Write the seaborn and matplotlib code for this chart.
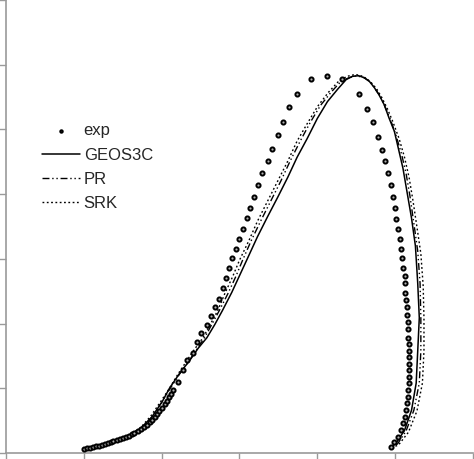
import numpy as np
import pandas as pd
import matplotlib
matplotlib.use("Agg")
import matplotlib.pyplot as plt
import seaborn as sns

# experimental points (left branch up to the top, then down the right branch)
exp_x = [1.00, 1.04, 1.08, 1.12, 1.15, 1.19, 1.23, 1.27, 1.31, 1.35, 1.38, 1.42, 1.46, 1.50,
         1.54, 1.58, 1.62, 1.65, 1.69, 1.73, 1.77, 1.81, 1.85, 1.88, 1.91, 1.94, 1.97, 2.00,
         2.04, 2.07, 2.09, 2.12, 2.14,
         2.21, 2.27, 2.33, 2.40, 2.46, 2.51, 2.58, 2.64, 2.69, 2.74, 2.79,
         2.83, 2.87, 2.90, 2.95, 3.00, 3.04, 3.09, 3.14, 3.19, 3.24, 3.29, 3.36, 3.42, 3.49,
         3.56, 3.64, 3.74, 3.92, 4.13, 4.32,
         4.53, 4.64, 4.72, 4.78, 4.83, 4.87, 4.91, 4.95, 4.97, 5.00, 5.01, 5.04, 5.06, 5.08,
         5.09, 5.10, 5.12, 5.13, 5.13, 5.14, 5.15, 5.15, 5.17, 5.17, 5.17, 5.18, 5.18, 5.18,
         5.18, 5.18, 5.18, 5.18, 5.17, 5.17, 5.15, 5.14, 5.13, 5.10, 5.08, 5.03, 4.99, 4.95]
exp_y = [0.06, 0.07, 0.08, 0.09, 0.11, 0.115, 0.12, 0.135, 0.15, 0.165, 0.18, 0.20, 0.22, 0.235,
         0.25, 0.27, 0.29, 0.315, 0.34, 0.37, 0.40, 0.44, 0.48, 0.515, 0.55, 0.60, 0.65, 0.70,
         0.75, 0.80, 0.86, 0.91, 0.97,
         1.09, 1.29, 1.43, 1.55, 1.71, 1.85, 1.98, 2.12, 2.26, 2.38, 2.55,
         2.71, 2.86, 3.02, 3.15, 3.31, 3.46, 3.63, 3.78, 3.95, 4.14, 4.32, 4.51, 4.69, 4.91,
         5.11, 5.34, 5.55, 5.78, 5.83, 5.78,
         5.55, 5.32, 5.11, 4.89, 4.68, 4.51, 4.32, 4.14, 3.95, 3.78, 3.62, 3.46, 3.31, 3.15,
         3.02, 2.86, 2.74, 2.62, 2.48, 2.37, 2.25, 2.14, 2.02, 1.91, 1.78, 1.69, 1.58, 1.48,
         1.38, 1.28, 1.17, 1.08, 0.97, 0.86, 0.77, 0.66, 0.55, 0.46, 0.35, 0.25, 0.17, 0.09]

geos_x = [0.99, 1.21, 1.40, 1.55, 1.72, 1.87, 2.01, 2.10, 2.23, 2.36, 2.47, 2.58, 2.68, 2.78,
          2.90, 3.00, 3.10, 3.23, 3.36, 3.49, 3.62, 3.74, 3.87, 4.00, 4.13, 4.26, 4.37, 4.45,
          4.53, 4.60, 4.67, 4.73, 4.79, 4.86, 4.92, 4.99, 5.05, 5.10, 5.15, 5.21, 5.26, 5.29,
          5.31, 5.29, 5.27, 5.21, 5.12, 5.01, 4.94]
geos_y = [0.06, 0.11, 0.17, 0.25, 0.37, 0.55, 0.80, 1.00, 1.23, 1.43, 1.62, 1.78, 1.98, 2.20,
          2.48, 2.74, 3.00, 3.34, 3.65, 3.95, 4.26, 4.57, 4.86, 5.17, 5.43, 5.62, 5.77, 5.82,
          5.83, 5.80, 5.74, 5.65, 5.54, 5.38, 5.18, 4.97, 4.66, 4.40, 4.05, 3.63, 3.20, 2.62,
          2.09, 1.58, 1.08, 0.66, 0.35, 0.15, 0.08]

pr_x = [0.99, 1.21, 1.40, 1.55, 1.72, 1.87, 2.01, 2.10, 2.23, 2.35, 2.45, 2.55, 2.65, 2.74,
        2.85, 2.95, 3.04, 3.15, 3.27, 3.40, 3.53, 3.65, 3.78, 3.91, 4.04, 4.18, 4.31, 4.41,
        4.50, 4.60, 4.68, 4.74, 4.81, 4.87, 4.94, 5.01, 5.08, 5.14, 5.19, 5.24, 5.29, 5.32,
        5.33, 5.33, 5.31, 5.24, 5.14, 5.03, 4.94]
pr_y = [0.06, 0.11, 0.17, 0.25, 0.37, 0.55, 0.80, 0.98, 1.22, 1.42, 1.60, 1.78, 2.00, 2.20,
        2.46, 2.72, 2.98, 3.28, 3.58, 3.89, 4.20, 4.51, 4.82, 5.11, 5.37, 5.58, 5.75, 5.80,
        5.83, 5.80, 5.74, 5.63, 5.51, 5.35, 5.15, 4.91, 4.63, 4.32, 3.97, 3.55, 3.12, 2.62,
        2.09, 1.58, 1.08, 0.66, 0.34, 0.14, 0.08]

srk_x = [0.99, 1.21, 1.40, 1.55, 1.72, 1.86, 1.99, 2.09, 2.21, 2.32, 2.42, 2.53, 2.63, 2.72,
         2.81, 2.91, 3.00, 3.12, 3.23, 3.36, 3.49, 3.62, 3.74, 3.87, 4.00, 4.14, 4.27, 4.38,
         4.49, 4.59, 4.68, 4.76, 4.83, 4.90, 4.97, 5.05, 5.12, 5.18, 5.23, 5.28, 5.33, 5.36,
         5.37, 5.37, 5.35, 5.28, 5.17, 5.04, 4.94]
srk_y = [0.06, 0.11, 0.17, 0.26, 0.38, 0.57, 0.80, 0.98, 1.22, 1.42, 1.60, 1.78, 2.00, 2.20,
         2.46, 2.72, 2.98, 3.28, 3.58, 3.89, 4.20, 4.51, 4.82, 5.09, 5.35, 5.57, 5.74, 5.82,
         5.85, 5.82, 5.74, 5.63, 5.49, 5.32, 5.12, 4.86, 4.57, 4.25, 3.89, 3.49, 3.08, 2.58,
         2.08, 1.58, 1.08, 0.65, 0.32, 0.12, 0.08]

sns.set_style("white")
plt.rcParams["font.family"] = ["Liberation Sans", "DejaVu Sans"]

fig = plt.figure(figsize=(4.74, 4.59), dpi=100)
ax = fig.add_axes([6 / 474, 6 / 459, 467 / 474, 453 / 459])

sns.lineplot(x=geos_x, y=geos_y, sort=False, estimator=None, color="black",
             lw=1.1, ls="-", label="GEOS3C", ax=ax)
sns.lineplot(x=pr_x, y=pr_y, sort=False, estimator=None, color="black",
             lw=1.0, ls=(0, (5, 2, 1, 2, 1, 2)), label="PR", ax=ax)
sns.lineplot(x=srk_x, y=srk_y, sort=False, estimator=None, color="black",
             lw=1.0, ls=(0, (1.3, 1.8)), label="SRK", ax=ax)
sns.scatterplot(x=exp_x, y=exp_y, marker="o", s=9, color="#b0b0b0",
                edgecolor="black", linewidth=1.4, label="exp", ax=ax, zorder=3)

ax.set_xlim(0, 6)
ax.set_ylim(0, 7)
ax.set_xticks(np.arange(0, 7, 1))
ax.set_yticks(np.arange(0, 8, 1))
ax.set_xticklabels([])
ax.set_yticklabels([])
ax.tick_params(direction="out", length=6, width=1, color="#9a9a9a", left=True, bottom=True)
for side in ["top", "right"]:
    ax.spines[side].set_visible(False)
for side in ["left", "bottom"]:
    ax.spines[side].set_color("#9a9a9a")
    ax.spines[side].set_linewidth(1.2)

h, l = ax.get_legend_handles_labels()
order = [l.index(n) for n in ["exp", "GEOS3C", "PR", "SRK"]]
ax.legend([h[i] for i in order], [l[i] for i in order], loc="upper left",
          bbox_to_anchor=(0.077, 0.728), frameon=False, fontsize=12,
          handlelength=2.3, handletextpad=0.2, labelspacing=0.56,
          borderpad=0, borderaxespad=0, markerscale=0.6)

fig.savefig("out.png", dpi=100)
